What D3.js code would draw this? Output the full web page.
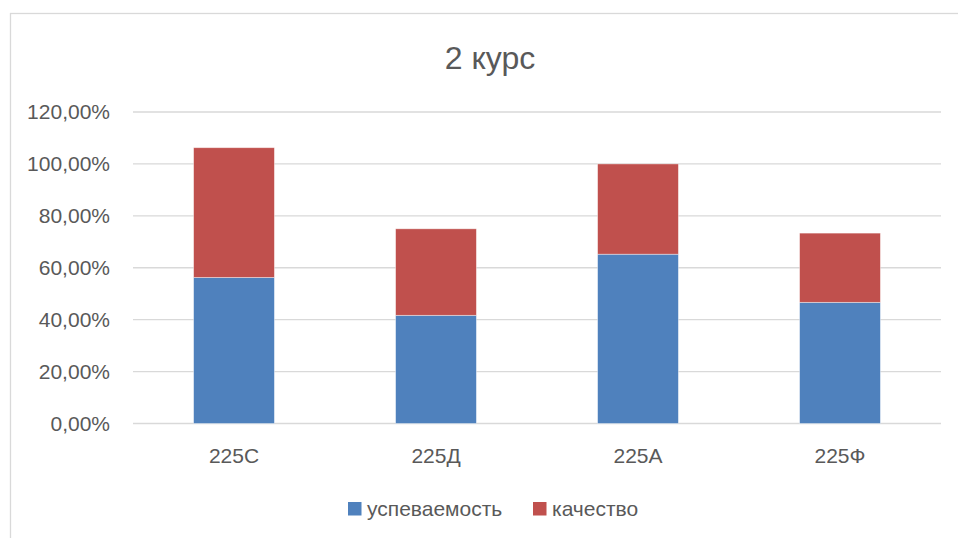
<!DOCTYPE html>
<html>
<head>
<meta charset="utf-8">
<script src="https://cdn.jsdelivr.net/npm/d3@7"></script>
<style>
  body { margin: 0; background: #fff; }
  text { font-family: "Liberation Sans", Arial, sans-serif; fill: #595959; }
</style>
</head>
<body>
<svg width="958" height="538"></svg>
<script>
// data
var groups = ["225С", "225Д", "225А", "225Ф"];
var seriesNames = ["успеваемость", "качество"];
var uspevaemost = [0.5625, 0.4167, 0.6522, 0.4667];
var kachestvo = [0.50, 0.3333, 0.3478, 0.2667];
var yTicks = [0, 0.2, 0.4, 0.6, 0.8, 1.0, 1.2];
var colors = ["#4F81BD", "#C0504D"];

var svg = d3.select("svg"),
    width = +svg.attr("width"),
    height = +svg.attr("height");

// chart frame (cut off on the right and bottom like the screenshot)
svg.append("rect")
    .attr("x", 10.5).attr("y", 13.5)
    .attr("width", 980).attr("height", 560)
    .attr("fill", "none")
    .attr("stroke", "#d9d9d9")
    .attr("stroke-width", 1.3);

var plot = { left: 133, right: 941, top: 112, bottom: 423.5 };

var x = d3.scaleBand()
    .domain(groups)
    .range([plot.left, plot.right])
    .paddingInner(0.6)
    .paddingOuter(0.3);

var y = d3.scaleLinear()
    .domain([0, 1.2])
    .range([plot.bottom, plot.top]);

var fmt = function (d) { return d3.format(".2f")(d * 100).replace(".", ",") + "%"; };

// gridlines
svg.append("g")
    .selectAll("line")
    .data(yTicks)
    .enter().append("line")
    .attr("x1", plot.left).attr("x2", plot.right)
    .attr("y1", function (d) { return y(d); })
    .attr("y2", function (d) { return y(d); })
    .attr("stroke", "#d9d9d9")
    .attr("stroke-width", 1.3);

// y axis labels
var yAxis = svg.append("g")
    .attr("transform", "translate(" + 110 + ",0)")
    .call(d3.axisLeft(y).tickValues(yTicks).tickFormat(fmt).tickSize(0).tickPadding(0));
yAxis.select(".domain").remove();
yAxis.selectAll("text")
    .attr("font-size", 21)
    .attr("fill", "#595959")
    .style("font-family", "Liberation Sans, Arial, sans-serif");

// stacked bars
var table = groups.map(function (g, i) {
    return { group: g, "успеваемость": uspevaemost[i], "качество": kachestvo[i] };
});
var stack = d3.stack().keys(seriesNames)(table);

svg.append("g")
    .selectAll("g")
    .data(stack)
    .enter().append("g")
    .attr("fill", function (d, i) { return colors[i]; })
    .selectAll("rect")
    .data(function (d) { return d; })
    .enter().append("rect")
    .attr("x", function (d) { return x(d.data.group); })
    .attr("width", x.bandwidth())
    .attr("y", function (d) { return y(d[1]); })
    .attr("height", function (d) { return y(d[0]) - y(d[1]); })
    .attr("stroke", "#ffffff")
    .attr("stroke-opacity", 0.5)
    .attr("stroke-width", 0.8);

// x axis labels
var xAxis = svg.append("g")
    .attr("transform", "translate(0," + 456 + ")")
    .call(d3.axisBottom(x).tickSize(0).tickPadding(0));
xAxis.select(".domain").remove();
xAxis.selectAll("text")
    .attr("dy", "0.35em")
    .attr("y", 0)
    .attr("font-size", 21)
    .attr("fill", "#595959")
    .style("font-family", "Liberation Sans, Arial, sans-serif");

// title
svg.append("text")
    .attr("x", 490).attr("y", 58)
    .attr("dy", "0.35em")
    .attr("text-anchor", "middle")
    .attr("font-size", 32)
    .text("2 курс");

// legend
var legendX = [348, 533];
var legend = svg.append("g")
    .selectAll("g")
    .data(seriesNames)
    .enter().append("g")
    .attr("transform", function (d, i) { return "translate(" + legendX[i] + "," + 502 + ")"; });
legend.append("rect")
    .attr("width", 13.5).attr("height", 13.5)
    .attr("fill", function (d, i) { return colors[i]; });
legend.append("text")
    .attr("x", 19).attr("y", 7)
    .attr("dy", "0.35em")
    .attr("font-size", 21)
    .text(function (d) { return d; });
</script>
</body>
</html>
